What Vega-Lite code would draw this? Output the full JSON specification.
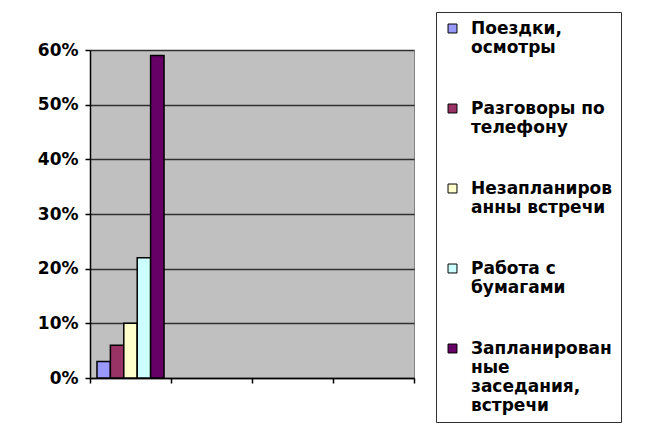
{
  "$schema": "https://vega.github.io/schema/vega-lite/v6.json",
  "width": 324,
  "height": 328,
  "autosize": "none",
  "padding": {"left": 90, "top": 50, "right": 255, "bottom": 50},
  "background": "white",
  "config": {
    "view": {"fill": "#C0C0C0", "stroke": "#808080", "strokeWidth": 1},
    "font": "DejaVu Sans"
  },
  "data": {
    "values": [
      {"cat": "1", "series": "Поездки, осмотры", "value": 0.03},
      {"cat": "1", "series": "Разговоры по телефону", "value": 0.06},
      {"cat": "1", "series": "Незапланированны встречи", "value": 0.10},
      {"cat": "1", "series": "Работа с бумагами", "value": 0.22},
      {"cat": "1", "series": "Запланированные заседания, встречи", "value": 0.59}
    ]
  },
  "mark": {"type": "bar", "stroke": "black", "strokeWidth": 1.5},
  "encoding": {
    "x": {
      "field": "cat",
      "type": "nominal",
      "scale": {"domain": ["1", "2", "3", "4"], "paddingInner": 0, "paddingOuter": 0},
      "axis": {
        "labels": false,
        "title": null,
        "tickBand": "extent",
        "domainColor": "black",
        "domainWidth": 1.5,
        "tickColor": "black",
        "tickWidth": 1.5,
        "tickSize": 5
      }
    },
    "xOffset": {
      "field": "series",
      "type": "nominal",
      "sort": ["Поездки, осмотры", "Разговоры по телефону", "Незапланированны встречи", "Работа с бумагами", "Запланированные заседания, встречи"],
      "scale": {"paddingInner": 0, "paddingOuter": 0.52}
    },
    "y": {
      "field": "value",
      "type": "quantitative",
      "scale": {"domain": [0, 0.6], "nice": false},
      "axis": {
        "title": null,
        "values": [0, 0.1, 0.2, 0.3, 0.4, 0.5, 0.6],
        "format": ".0%",
        "labelFont": "DejaVu Sans",
        "labelFontWeight": "bold",
        "labelFontSize": 17,
        "labelColor": "black",
        "labelPadding": 7,
        "domainColor": "black",
        "domainWidth": 1.5,
        "tickColor": "black",
        "tickWidth": 1.5,
        "tickSize": 5,
        "gridColor": "#303030",
        "gridWidth": 1.5
      }
    },
    "color": {
      "field": "series",
      "type": "nominal",
      "scale": {
        "domain": ["Поездки, осмотры", "Разговоры по телефону", "Незапланированны встречи", "Работа с бумагами", "Запланированные заседания, встречи"],
        "range": ["#9999FF", "#993366", "#FFFFCC", "#CCFFFF", "#660066"]
      },
      "legend": {
        "title": null,
        "orient": "none",
        "legendX": 346,
        "legendY": -38,
        "strokeColor": "#303030",
        "fillColor": "white",
        "padding": 8,
        "symbolType": "square",
        "symbolSize": 80,
        "symbolStrokeColor": "black",
        "symbolStrokeWidth": 1,
        "labelFont": "DejaVu Sans",
        "labelFontWeight": "bold",
        "labelFontSize": 17,
        "labelColor": "black",
        "labelBaseline": "middle",
        "labelOffset": 10,
        "labelLimit": 300,
        "rowPadding": 43,
        "labelExpr": "datum.label == 'Поездки, осмотры' ? ['Поездки,', 'осмотры'] : datum.label == 'Разговоры по телефону' ? ['Разговоры по', 'телефону'] : datum.label == 'Незапланированны встречи' ? ['Незапланиров', 'анны встречи'] : datum.label == 'Работа с бумагами' ? ['Работа с', 'бумагами'] : ['Запланирован', 'ные', 'заседания,', 'встречи']"
      }
    }
  }
}
